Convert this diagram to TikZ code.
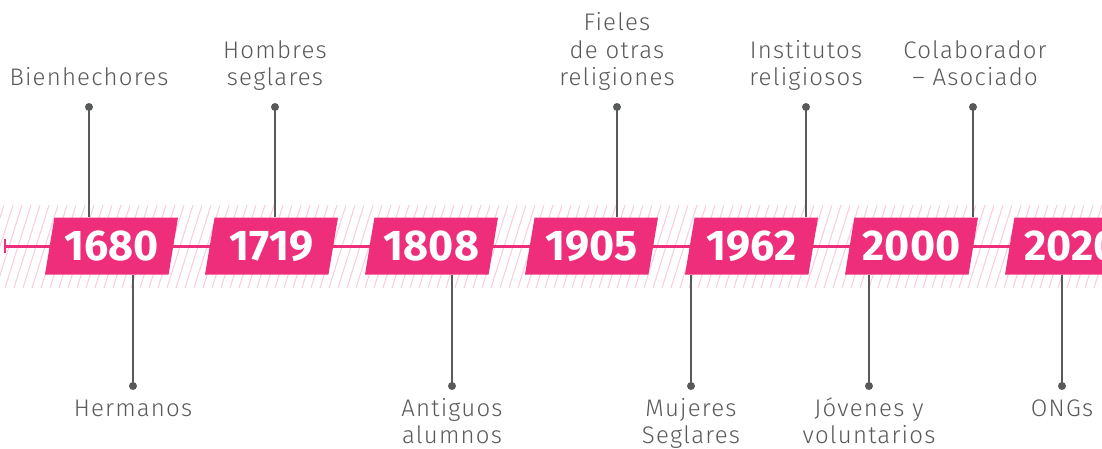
\documentclass[tikz,border=0pt]{standalone}
\usepackage{fontspec}
\setmainfont{Fira Sans}[UprightFont=* Light, BoldFont=* Bold]
\newfontfamily\labelfont{Fira Sans Light}[LetterSpace=5]
\usetikzlibrary{shapes.geometric}

\definecolor{timepink}{HTML}{EE2D7B}
\definecolor{hatchpink}{HTML}{F9CCDD}
\definecolor{stemgray}{HTML}{58595B}

\tikzset{
  yearbox/.style={trapezium, trapezium left angle=72.8, trapezium right angle=107.2,
    trapezium stretches body=true, minimum width=133pt, minimum height=57pt,
    inner sep=0pt, fill=timepink, text=white,
    font=\fontsize{43}{43}\selectfont\bfseries},
  toplabel/.style={anchor=south, align=center, inner sep=0pt, text=stemgray,
    font=\labelfont\fontsize{24}{27.5}\selectfont},
  botlabel/.style={anchor=north, align=center, inner sep=0pt, text=stemgray,
    font=\labelfont\fontsize{24}{27.5}\selectfont},
  stem/.style={stemgray, line width=2.7pt},
  hatchline/.style={hatchpink, line width=1pt}
}

\begin{document}
\begin{tikzpicture}[x=1pt,y=-1pt]
  \useasboundingbox (0,0) rectangle (1102,448);

  % Franja rayada
  \begin{scope}
    \clip (0,205) rectangle (1102,288);
    \foreach \h in {-40,-31,...,1110}
      \draw[hatchline] (\h,288) -- ++(26,-83);
  \end{scope}

  % Linea de tiempo
  \coordinate (start) at (5,246);
  \coordinate (end) at (1110,246);
  \draw[timepink, line width=3pt] (start) -- (end);
  \draw[timepink, line width=2.5pt] ([yshift=-7pt]start) -- ([yshift=7pt]start);

  % Anios
  \foreach \yr [count=\i from 0] in {1680,1719,1808,1905,1962,2000,2020}
    \node[yearbox] (y\yr) at (111.5+160*\i,246) {\yr};

  % Etiquetas de arriba
  \node[toplabel] (bien) at (89,94.25) {Bienhechores\strut};
  \node[toplabel] (homb) at (275,94.25) {Hombres\\seglares\strut};
  \node[toplabel] (fiel) at (617,94.25) {Fieles\\de otras\\religiones\strut};
  \node[toplabel] (inst) at (806,94.25) {Institutos\\religiosos\strut};
  \node[toplabel] (cola) at (975,94.25) {Colaborador\\– Asociado\strut};

  \coordinate (dbien) at (89,107);
  \coordinate (dhomb) at (275,107);
  \coordinate (dfiel) at (617,107);
  \coordinate (dinst) at (806,107);
  \coordinate (dcola) at (973,107);
  \draw[stem] (dbien) -- (dbien |- y1680.north);
  \draw[stem] (dhomb) -- (dhomb |- y1719.north);
  \draw[stem] (dfiel) -- (dfiel |- y1905.north);
  \draw[stem] (dinst) -- (dinst |- y1962.north);
  \draw[stem] (dcola) -- (dcola |- y2000.north);
  \foreach \d in {dbien,dhomb,dfiel,dinst,dcola}
    \fill[stemgray] (\d) circle (4pt);

  % Etiquetas de abajo
  \node[botlabel] (herm) at (133,396.75) {\strut Hermanos};
  \node[botlabel] (anti) at (452,396.75) {\strut Antiguos\\alumnos};
  \node[botlabel] (muje) at (691,396.75) {\strut Mujeres\\Seglares};
  \node[botlabel] (jove) at (869,396.75) {\strut Jóvenes y\\voluntarios};
  \node[botlabel] (ongs) at (1062,396.75) {\strut ONGs};

  \coordinate (dherm) at (133,386);
  \coordinate (danti) at (452,386);
  \coordinate (dmuje) at (691,386);
  \coordinate (djove) at (869,386);
  \coordinate (dongs) at (1062,386);
  \draw[stem] (dherm) -- (dherm |- y1680.south);
  \draw[stem] (danti) -- (danti |- y1808.south);
  \draw[stem] (dmuje) -- (dmuje |- y1962.south);
  \draw[stem] (djove) -- (djove |- y2000.south);
  \draw[stem] (dongs) -- (dongs |- y2020.south);
  \foreach \d in {dherm,danti,dmuje,djove,dongs}
    \fill[stemgray] (\d) circle (4pt);

\end{tikzpicture}
\end{document}
